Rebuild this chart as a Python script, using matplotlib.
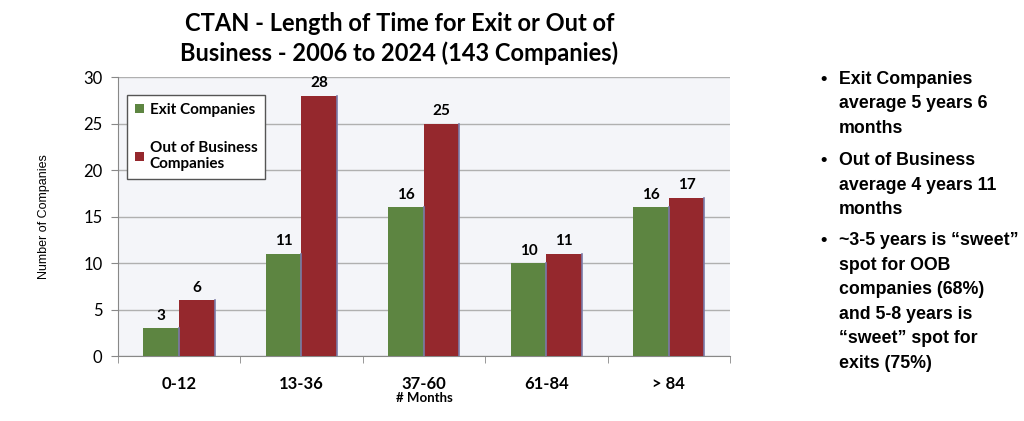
import matplotlib.pyplot as plt
import numpy as np

# Dados
categorias = ['0-12', '13-36', '37-60', '61-84', '> 84']
exit_companies = [3, 11, 16, 10, 16]
oob_companies = [6, 28, 25, 11, 17]

notas = [
    'Exit Companies\naverage 5 years 6\nmonths',
    'Out of Business\naverage 4 years 11\nmonths',
    '~3-5 years is \u201csweet\u201d\nspot for OOB\ncompanies (68%)\nand 5-8 years is\n\u201csweet\u201d spot for\nexits (75%)',
]
notas_y = [0.832, 0.639, 0.449]

verde = '#5d8541'
vermelho = '#95282d'

fig = plt.figure(figsize=(10.24, 4.21), dpi=100)
ax = fig.add_axes([0.115, 0.154, 0.598, 0.663])
ax.set_facecolor('#f4f5f9')

x = np.arange(len(categorias))
w = 0.29
b1 = ax.bar(x - w / 2, exit_companies, w, color=verde, label='Exit Companies', zorder=3)
b2 = ax.bar(x + w / 2, oob_companies, w, color=vermelho, label='Out of Business\nCompanies', zorder=3)

# sombra azulada na borda direita
for b in list(b1) + list(b2):
    ax.plot([b.get_x() + b.get_width(), b.get_x() + b.get_width()], [0, b.get_height()],
            color='#7a7aa8', lw=1.2, zorder=4)

for barras in (b1, b2):
    for b in barras:
        ax.text(b.get_x() + b.get_width() / 2, b.get_height() + 0.6, str(int(b.get_height())),
                ha='center', va='bottom', fontsize=11, fontweight='bold', family='Lato')

ax.set_xlim(-0.5, 4.5)
ax.set_ylim(0, 30)
ax.set_yticks(range(0, 31, 5))
ax.yaxis.grid(True, color='#b0b0b0', lw=1, zorder=0)
ax.set_xticks(x)
ax.set_xticklabels(categorias, fontsize=12, fontweight='bold', family='Lato')
ax.set_xticks(np.arange(-0.5, 5, 1), minor=True)
ax.tick_params(axis='x', which='major', length=0, pad=14)
ax.tick_params(axis='x', which='minor', length=5, color='#888888')
ax.tick_params(axis='y', labelsize=12, length=5, color='#888888', pad=6)
for t in ax.get_yticklabels():
    t.set_family('Lato')
for s in ['top', 'right']:
    ax.spines[s].set_visible(False)
ax.spines['left'].set_color('#888888')
ax.spines['bottom'].set_color('#888888')

ax.set_xlabel('# Months', fontsize=9.5, fontweight='bold', family='Lato', labelpad=0)
fig.text(0.043, 0.485, 'Number of Companies', rotation=90, ha='center', va='center',
         fontsize=9, family='Liberation Sans')

leg = ax.legend(loc='upper left', bbox_to_anchor=(0.0, 0.968), fancybox=False,
                edgecolor='#555555', framealpha=1, prop={'family': 'Lato', 'weight': 'bold', 'size': 11},
                handlelength=0.6, handleheight=0.6, handletextpad=0.4, labelspacing=1.6,
                borderpad=0.5, borderaxespad=0.6)
leg.get_frame().set_linewidth(1)

fig.text(0.39, 0.908, 'CTAN - Length of Time for Exit or Out of\nBusiness - 2006 to 2024 (143 Companies)',
         ha='center', va='center', fontsize=17, fontweight='bold', family='Lato', linespacing=1.3)

# Notas à direita
for n, y in zip(notas, notas_y):
    fig.text(0.801, y, '\u2022', fontsize=13, fontweight='bold', family='Liberation Sans', va='top')
    fig.text(0.819, y, n, fontsize=12.8, fontweight='bold', family='Liberation Sans', va='top',
             linespacing=1.58)

fig.savefig('out.png', dpi=100)
